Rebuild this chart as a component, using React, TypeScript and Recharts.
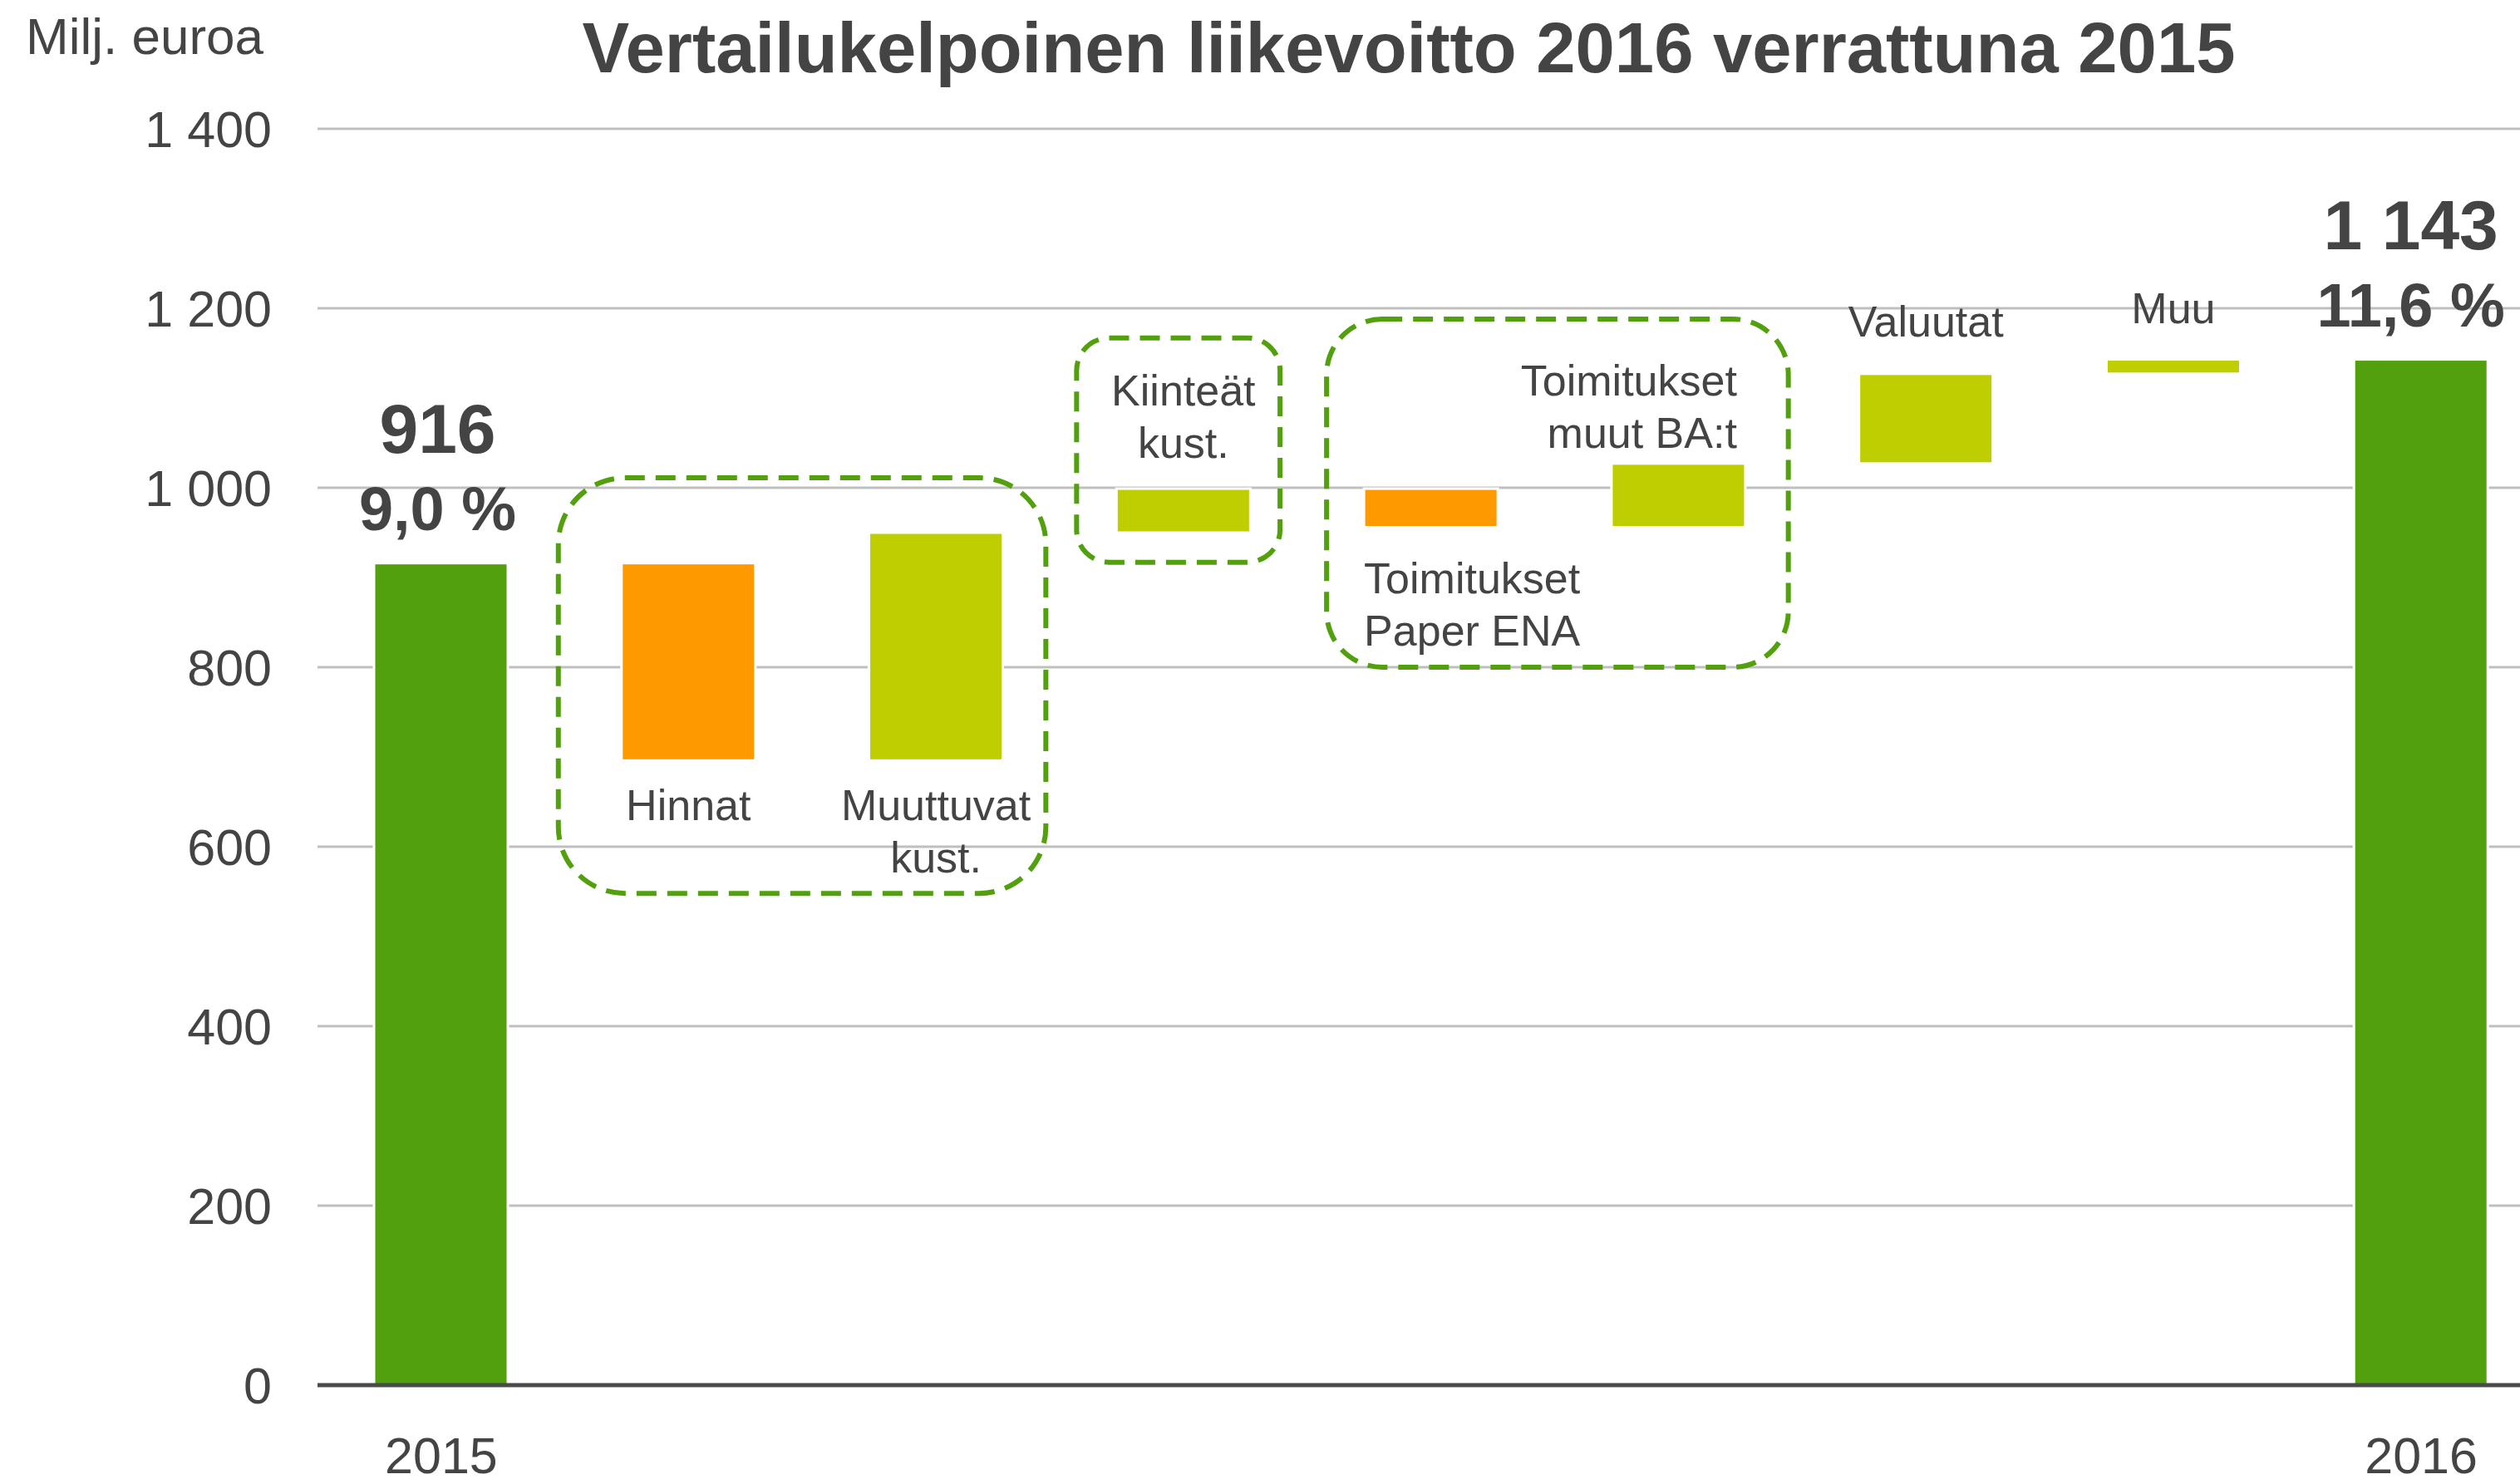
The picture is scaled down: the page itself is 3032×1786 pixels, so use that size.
import { BarChart, Bar, XAxis, YAxis, CartesianGrid, ReferenceArea } from 'recharts';

// waterfall: comparable operating profit 2015 -> 2016
const categories = [
  '2015',
  'Hinnat',
  'Muuttuvat kust.',
  'Kiinteät kust.',
  'Toimitukset Paper ENA',
  'Toimitukset muut BA:t',
  'Valuutat',
  'Muu',
  '2016',
];
const startValue = 916;
const endValue = 1143;
const changes = [-220, 254, 49, -43, 71, 100, 16];
const marginTexts = ['9,0 %', '11,6 %'];
const barLabels = [
  [],
  ['Hinnat'],
  ['Muuttuvat', 'kust.'],
  ['Kiinteät', 'kust.'],
  ['Toimitukset', 'Paper ENA'],
  ['Toimitukset', 'muut BA:t'],
  ['Valuutat'],
  ['Muu'],
  [],
];
const axisLabels = ['2015', '', '', '', '', '', '', '', '2016'];
const yTicks = [0, 200, 400, 600, 800, 1000, 1200, 1400];

// dashed groupings (y range in data units)
const groups = [
  { from: 'Hinnat', to: 'Muuttuvat kust.', low: 548, high: 1011, dx1: -8, dx2: -17 },
  { from: 'Kiinteät kust.', to: 'Kiinteät kust.', low: 917, high: 1167, dx1: 20, dx2: -33 },
  { from: 'Toimitukset Paper ENA', to: 'Toimitukset muut BA:t', low: 800, high: 1188, dx1: 23, dx2: -17 },
];

const FONT = '"Liberation Sans", Arial, sans-serif';
const TEXT = '#444444';
const colors: any = { total: '#52A00E', down: '#FF9900', up: '#BFCE00' };

// where the category texts sit relative to each bar
const labelPlace: any[] = [
  null,
  { side: 'below', align: 'middle', off: 72 },
  { side: 'below', align: 'middle', off: 72 },
  { side: 'above', align: 'middle', off: 37 },
  { side: 'below', align: 'start', off: 79 },
  { side: 'above', align: 'end', off: 19, dx: -10 },
  { side: 'above', align: 'middle', off: 45 },
  { side: 'above', align: 'middle', off: 44 },
  null,
];
const LINE = 63;

let running = startValue;
const rows = categories.map((name, i) => {
  if (i === 0) return { name, range: [0, startValue], kind: 'total', value: startValue, idx: i };
  if (i === categories.length - 1) return { name, range: [0, endValue], kind: 'total', value: endValue, idx: i };
  const d = changes[i - 1];
  const from = running;
  running += d;
  return { name, range: [Math.min(from, running), Math.max(from, running)], kind: d < 0 ? 'down' : 'up', value: d, idx: i };
});

const fmt = (n: number) => String(n).replace(/\B(?=(\d{3})+(?!\d))/g, ' ');

const renderBar = (props: any) => {
  const { x, width, payload } = props;
  let { y, height } = props;
  if (height < 0) {
    y = y + height;
    height = -height;
  }
  const i = payload.idx;
  const cx = x + width / 2;
  const out: any[] = [
    <rect key="r" x={x} y={y} width={width} height={height} fill={colors[payload.kind]} stroke="#fff" strokeWidth={3} />,
  ];
  if (payload.kind === 'total') {
    const pct = i === 0 ? marginTexts[0] : marginTexts[1];
    const tx = i === 0 ? cx - 4 : cx - 12;
    out.push(
      <text key="v" x={tx} y={y - 133} textAnchor="middle" fontFamily={FONT} fontWeight="bold" fontSize={84} fill={TEXT}>
        {fmt(payload.value)}
      </text>,
      <text key="p" x={tx} y={y - 40} textAnchor="middle" fontFamily={FONT} fontWeight="bold" fontSize={74} fill={TEXT}>
        {pct}
      </text>
    );
  }
  const place = labelPlace[i];
  const lines = barLabels[i];
  if (place && lines.length) {
    const tx = place.align === 'start' ? x : place.align === 'end' ? x + width + (place.dx || 0) : cx;
    lines.forEach((ln, k) => {
      const ty =
        place.side === 'below'
          ? y + height + place.off + k * LINE
          : y - place.off - (lines.length - 1 - k) * LINE;
      out.push(
        <text key={'l' + k} x={tx} y={ty} textAnchor={place.align} fontFamily={FONT} fontSize={52} fill={TEXT}>
          {ln}
        </text>
      );
    });
  }
  return <g>{out}</g>;
};

const makeBox = (dx1: number, dx2: number) => (props: any) => {
  const { x, y, width, height } = props;
  const bx = x + dx1;
  const bw = width - dx1 + dx2;
  const r = Math.min(bw, height) * 0.16;
  return (
    <rect
      x={bx}
      y={y}
      width={bw}
      height={height}
      rx={r}
      ry={r}
      fill="none"
      stroke="#52A00E"
      strokeWidth={6}
      strokeDasharray="24 13"
    />
  );
};

const YearTick = (props: any) => {
  const { x, y, index } = props;
  const label = axisLabels[index];
  if (!label) return null;
  return (
    <text x={x} y={y} dy={106} textAnchor="middle" fontFamily={FONT} fontSize={61} fill={TEXT}>
      {label}
    </text>
  );
};

export default function App() {
  return (
    <div style={{ position: 'absolute', left: 0, top: 0, width: 3032, height: 1786, overflow: 'hidden', background: '#fff' }}>
      <BarChart
        width={3062}
        height={1786}
        data={rows}
        margin={{ top: 155, right: 0, left: 0, bottom: 0 }}
      >
        <CartesianGrid vertical={false} stroke="#BFBFBF" strokeWidth={3} />
        <YAxis
          width={382}
          domain={[0, 1400]}
          ticks={yTicks}
          tickFormatter={fmt}
          axisLine={false}
          tickLine={false}
          tickSize={0}
          tickMargin={55}
          tick={{ fontFamily: FONT, fontSize: 61, fill: TEXT }}
        />
        <XAxis
          dataKey="name"
          height={119}
          tickLine={false}
          tickSize={0}
          tickMargin={0}
          interval={0}
          axisLine={{ stroke: '#4A4A4A', strokeWidth: 5 }}
          tick={<YearTick />}
        />
        <Bar dataKey="range" barSize={161} isAnimationActive={false} shape={renderBar} />
        {groups.map((g) => (
          <ReferenceArea
            key={g.from}
            x1={g.from}
            x2={g.to}
            y1={g.low}
            y2={g.high}
            shape={makeBox(g.dx1, g.dx2)}
          />
        ))}
      </BarChart>
      <svg width={3032} height={200} style={{ position: 'absolute', left: 0, top: 0, pointerEvents: 'none' }}>
        <text x={31} y={65} fontFamily={FONT} fontSize={62} fill={TEXT}>
          Milj. euroa
        </text>
        <text x={1695} y={87} textAnchor="middle" fontFamily={FONT} fontWeight="bold" fontSize={85} fill={TEXT}>
          Vertailukelpoinen liikevoitto 2016 verrattuna 2015
        </text>
      </svg>
    </div>
  );
}
